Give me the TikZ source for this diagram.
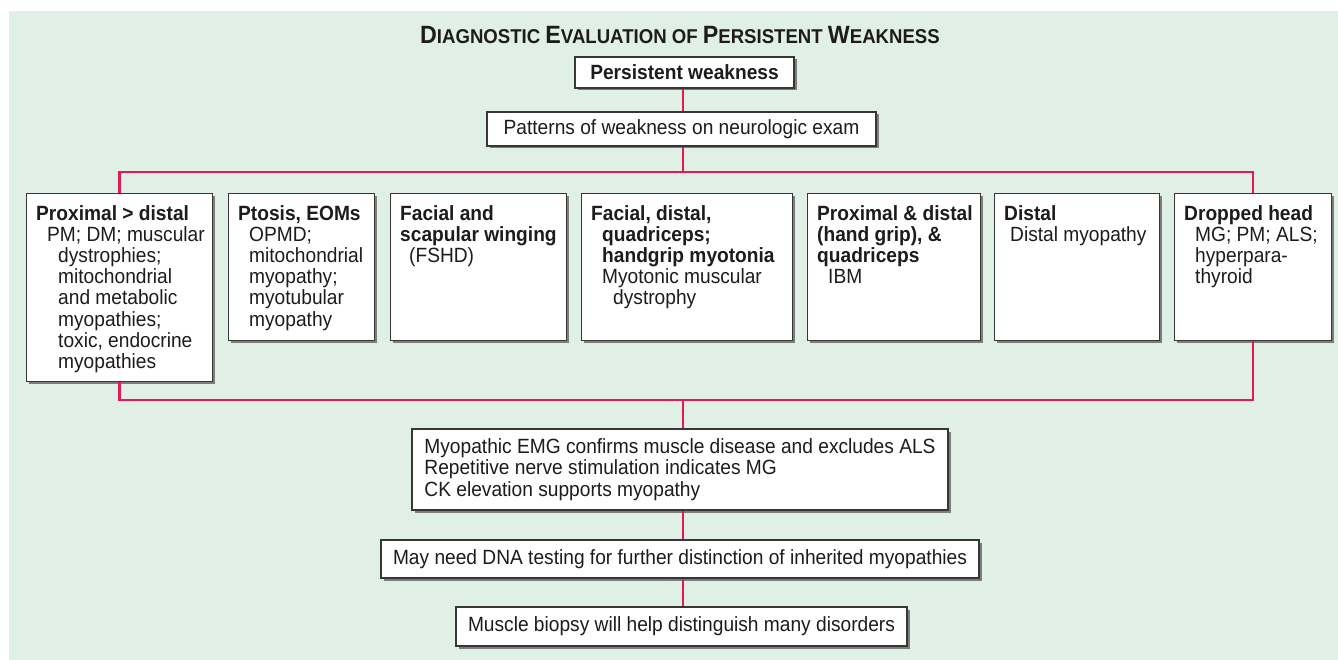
\documentclass[tikz,border=0pt]{standalone}
\usepackage{fontspec}
\setmainfont{Liberation Sans}[FakeStretch=0.93]
\usetikzlibrary{shadows}
\definecolor{panel}{RGB}{225,240,230}
\definecolor{busred}{RGB}{232,24,80}
\definecolor{boxline}{RGB}{55,55,55}
\definecolor{shade}{RGB}{125,125,125}
\definecolor{ink}{RGB}{30,27,28}
\newcommand{\titlebig}{\fontsize{25}{26}\selectfont}
\newcommand{\titlesmall}{\fontsize{20}{26}\selectfont}

\begin{document}
\begin{tikzpicture}[x=1pt,y=-1pt,
    every node/.style={text=ink,font=\fontsize{20.6}{21.2}\selectfont},
    stage/.style={draw=boxline,line width=1.2pt,fill=white,inner sep=0pt,
      drop shadow={shadow xshift=2.5pt,shadow yshift=-2.5pt,fill=shade,opacity=1}},
    cell/.style={stage,anchor=north west,minimum height=147pt},
    celltext/.style={anchor=north west,inner sep=0pt,align=left},
    bus/.style={busred,line width=2.4pt}]
  \useasboundingbox (0,0) rectangle (1338,660);
  \fill[panel] (9,11) rectangle (1338,660);

  % heading and first two steps
  \node[font=\bfseries,anchor=base] (title) at (680,43.5) {\titlebig D\titlesmall IAGNOSTIC \titlebig E\titlesmall VALUATION OF \titlebig P\titlesmall ERSISTENT \titlebig W\titlesmall EAKNESS};
  \node[stage,minimum width=219pt,minimum height=31pt,font=\fontsize{20.6}{21.2}\selectfont\bfseries] (persist) at (684.5,72.5) {Persistent weakness};
  \node[stage,minimum width=389pt,minimum height=34pt] (patterns) at (681.5,129) {Patterns of weakness on neurologic exam};

  % patterns of weakness
  \node[cell,minimum width=186pt,minimum height=188pt] (prox) at (26,193) {};
  \node[cell,minimum width=146pt] (ptosis) at (228,193) {};
  \node[cell,minimum width=176pt] (facial) at (390,193) {};
  \node[cell,minimum width=211pt] (myoton) at (581,193) {};
  \node[cell,minimum width=173pt] (proxdist) at (807,193) {};
  \node[cell,minimum width=165pt] (distal) at (994,193) {};
  \node[cell,minimum width=157pt] (head) at (1174,193) {};

  \node[celltext] (proxtext) at ([shift={(10pt,-12pt)}]prox.north west)
    {\textbf{Proximal > distal}\\
     \hspace*{11pt}PM; DM; muscular\\
     \hspace*{22pt}dystrophies;\\
     \hspace*{22pt}mitochondrial\\
     \hspace*{22pt}and metabolic\\
     \hspace*{22pt}myopathies;\\
     \hspace*{22pt}toxic, endocrine\\
     \hspace*{22pt}myopathies};
  \node[celltext] (ptosistext) at ([shift={(10pt,-12pt)}]ptosis.north west)
    {\textbf{Ptosis, EOMs}\\
     \hspace*{11pt}OPMD;\\
     \hspace*{11pt}mitochondrial\\
     \hspace*{11pt}myopathy;\\
     \hspace*{11pt}myotubular\\
     \hspace*{11pt}myopathy};
  \node[celltext] (facialtext) at ([shift={(10pt,-12pt)}]facial.north west)
    {\textbf{Facial and}\\
     \textbf{scapular winging}\\
     \hspace*{9pt}(FSHD)};
  \node[celltext] (myotontext) at ([shift={(10pt,-12pt)}]myoton.north west)
    {\textbf{Facial, distal,}\\
     \hspace*{11pt}\textbf{quadriceps;}\\
     \hspace*{11pt}\textbf{handgrip myotonia}\\
     \hspace*{11pt}Myotonic muscular\\
     \hspace*{22pt}dystrophy};
  \node[celltext] (proxdisttext) at ([shift={(10pt,-12pt)}]proxdist.north west)
    {\textbf{Proximal \& distal}\\
     \textbf{(hand grip), \&}\\
     \textbf{quadriceps}\\
     \hspace*{11pt}IBM};
  \node[celltext] (distaltext) at ([shift={(10pt,-12pt)}]distal.north west)
    {\textbf{Distal}\\
     \hspace*{6pt}Distal myopathy};
  \node[celltext] (headtext) at ([shift={(10pt,-12pt)}]head.north west)
    {\textbf{Dropped head}\\
     \hspace*{11pt}MG; PM; ALS;\\
     \hspace*{11pt}hyperpara-\\
     \hspace*{11pt}thyroid};

  % tests
  \node[stage,minimum width=536pt,minimum height=81pt,align=left] (emg) at (680,469.5)
    {Myopathic EMG confirms muscle disease and excludes ALS\\
     Repetitive nerve stimulation indicates MG\\
     CK elevation supports myopathy};
  \node[stage,minimum width=598pt,minimum height=38pt] (dna) at (680,559) {May need DNA testing for further distinction of inherited myopathies};
  \node[stage,minimum width=451pt,minimum height=39pt] (biopsy) at (681.5,626.5) {Muscle biopsy will help distinguish many disorders};

  % connectors
  \coordinate (spine) at (683,0);
  \coordinate (topbus) at (683,172);
  \coordinate (lowbus) at (683,400);
  \draw[bus] (persist.south -| spine) -- (patterns.north -| spine);
  \draw[bus] (patterns.south -| spine) -- (topbus);
  \draw[bus] (prox.north) |- (topbus) -| (head.north);
  \draw[bus] (prox.south) |- (lowbus) -| (head.south);
  \draw[bus] (lowbus) -- (emg.north -| spine);
  \draw[bus] (emg.south -| spine) -- (dna.north -| spine);
  \draw[bus] (dna.south -| spine) -- (biopsy.north -| spine);
\end{tikzpicture}
\end{document}
